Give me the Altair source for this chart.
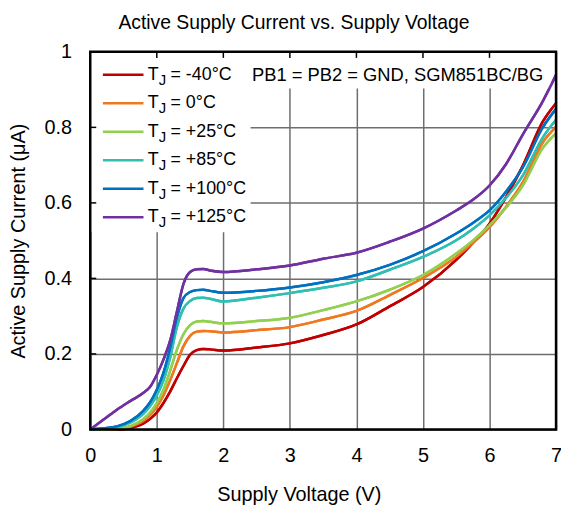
import altair as alt
import pandas as pd

FONT = "Liberation Sans"

# ---------------- data ----------------
voltage = [0, 0.2, 0.4, 0.6, 0.8, 0.9, 1.0, 1.1, 1.2, 1.3, 1.4, 1.5, 1.6, 1.7, 1.8,
           2.0, 2.5, 3.0, 3.5, 4.0, 4.5, 5.0, 5.5, 5.75, 6.0, 6.25, 6.5, 6.8, 7.0]

i_m40 = [0, 0, 0, 0.004, 0.016, 0.028, 0.045, 0.07, 0.1, 0.135, 0.168, 0.198, 0.21, 0.213, 0.212,
         0.209, 0.217, 0.228, 0.25, 0.278, 0.326, 0.377, 0.449, 0.494, 0.545, 0.616, 0.698, 0.815, 0.864]
i_0 = [0, 0, 0.001, 0.007, 0.023, 0.038, 0.06, 0.09, 0.13, 0.175, 0.22, 0.248, 0.259, 0.261, 0.26,
       0.257, 0.263, 0.271, 0.291, 0.314, 0.356, 0.401, 0.457, 0.494, 0.536, 0.59, 0.654, 0.76, 0.801]
i_25 = [0, 0, 0.001, 0.009, 0.028, 0.045, 0.07, 0.105, 0.155, 0.21, 0.252, 0.276, 0.286, 0.287, 0.285,
        0.281, 0.287, 0.296, 0.316, 0.339, 0.37, 0.409, 0.466, 0.5, 0.541, 0.588, 0.646, 0.745, 0.785]
i_85 = [0, 0.002, 0.006, 0.018, 0.042, 0.062, 0.09, 0.13, 0.19, 0.27, 0.32, 0.34, 0.348, 0.349, 0.346,
        0.339, 0.349, 0.361, 0.375, 0.392, 0.423, 0.457, 0.501, 0.531, 0.567, 0.614, 0.672, 0.773, 0.82]
i_100 = [0, 0.003, 0.008, 0.022, 0.05, 0.072, 0.105, 0.15, 0.215, 0.295, 0.348, 0.364, 0.369, 0.37, 0.367,
         0.362, 0.367, 0.376, 0.39, 0.409, 0.436, 0.472, 0.519, 0.547, 0.58, 0.63, 0.694, 0.8, 0.849]
i_125 = [0, 0.026, 0.052, 0.075, 0.097, 0.113, 0.145, 0.185, 0.235, 0.31, 0.385, 0.417, 0.424, 0.425, 0.421,
         0.417, 0.424, 0.434, 0.452, 0.468, 0.497, 0.532, 0.58, 0.608, 0.646, 0.703, 0.781, 0.869, 0.939]

series = ["-40°C", "0°C", "+25°C", "+85°C", "+100°C", "+125°C"]
colors = ["#C00000", "#F07820", "#92D050", "#30BFB0", "#0070C0", "#7030A0"]
x_ticks = [0, 1, 2, 3, 4, 5, 6, 7]
y_ticks = [0, 0.2, 0.4, 0.6, 0.8, 1.0]

title_text = "Active Supply Current vs. Supply Voltage"
x_title = "Supply Voltage (V)"
y_title = "Active Supply Current (μA)"
note_text = "PB1 = PB2 = GND, SGM851BC/BG"

# ---------------- tables ----------------
rows = []
for name, vals in zip(series, [i_m40, i_0, i_25, i_85, i_100, i_125]):
    for v, c in zip(voltage, vals):
        rows.append({"series": name, "v": v, "i": c})
df = pd.DataFrame(rows)

leg_y0, leg_dy = 0.9396, 0.0755
legend_df = pd.DataFrame({
    "series": series,
    "y": [leg_y0 - k * leg_dy for k in range(len(series))],
    "x0": 0.19, "x1": 0.80,
    "xt": 0.864, "xj": 1.03, "xr": 1.206,
    "label": ["= " + s for s in series],
})

boxes = pd.DataFrame({"x0": [0, 2.41], "x1": [2.41, 6.93], "y0": [0.522, 0.903], "y1": [1, 1]})
top_ticks = pd.DataFrame({"x": x_ticks[1:-1]})
left_ticks = pd.DataFrame({"y": y_ticks[1:-1]})
note_df = pd.DataFrame({"x": [2.43], "y": [leg_y0], "t": [note_text]})
one = pd.DataFrame({"a": [0]})

W, H = 470, 381
xs = alt.Scale(domain=[0, 7], nice=False, zero=False)
ys = alt.Scale(domain=[0, 1], nice=False)
col = alt.Color("series:N", scale=alt.Scale(domain=series, range=colors), legend=None)

GRID = "#6E6E6E"
x_axis = alt.Axis(values=x_ticks, format="~g", grid=True, gridColor=GRID, gridWidth=1.5,
                  ticks=False, tickSize=0, domain=False, labelFont=FONT, labelFontSize=20,
                  labelColor="black", labelBaseline="alphabetic", labelPadding=32,
                  labelFlush=False, labelOverlap=False,
                  title=x_title, titleFont=FONT, titleFontSize=20, titleFontWeight="normal",
                  titleColor="black", titleX=210.5, titleY=72, titleAlign="center",
                  titleBaseline="alphabetic")
y_axis = alt.Axis(values=y_ticks, format="~g", grid=True, gridColor=GRID, gridWidth=1.5,
                  ticks=False, tickSize=0, domain=False, labelFont=FONT, labelFontSize=20,
                  labelColor="black", labelPadding=19, labelBaseline="middle",
                  labelFlush=False, labelOverlap=False,
                  title=y_title, titleFont=FONT, titleFontSize=20, titleFontWeight="normal",
                  titleColor="black", titleX=-66, titleY=190.5, titleAlign="center",
                  titleBaseline="alphabetic", titleAngle=270)

lines = alt.Chart(df).mark_line(interpolate="monotone", strokeWidth=2.5).encode(
    x=alt.X("v:Q", scale=xs, axis=x_axis),
    y=alt.Y("i:Q", scale=ys, axis=y_axis),
    color=col,
    order=alt.Order("v:Q"),
)

box_layer = alt.Chart(boxes).mark_rect(fill="white", strokeWidth=0).encode(
    x="x0:Q", x2="x1:Q", y="y0:Q", y2="y1:Q")

leg_lines = alt.Chart(legend_df).mark_rule(strokeWidth=2.5).encode(
    x="x0:Q", x2="x1:Q", y="y:Q", color=col)
leg_T = alt.Chart(legend_df).mark_text(text="T", font=FONT, fontSize=18, align="left",
                                       baseline="middle", color="black").encode(x="xt:Q", y="y:Q")
leg_J = alt.Chart(legend_df).mark_text(text="J", font=FONT, fontSize=15, align="left",
                                       baseline="middle", dy=5, color="black").encode(x="xj:Q", y="y:Q")
leg_R = alt.Chart(legend_df).mark_text(font=FONT, fontSize=18, align="left",
                                       baseline="middle", color="black").encode(
    x="xr:Q", y="y:Q", text="label:N")

note = alt.Chart(note_df).mark_text(font=FONT, fontSize=18.5, align="left", baseline="middle",
                                    color="black").encode(x="x:Q", y="y:Q", text="t:N")

tt = alt.Chart(top_ticks).transform_calculate(y0="1", y1="0.984").mark_rule(
    color="black", strokeWidth=1.5).encode(x="x:Q", y="y0:Q", y2="y1:Q")
lt = alt.Chart(left_ticks).transform_calculate(x0="0", x1="0.09").mark_rule(
    color="black", strokeWidth=1.5).encode(y="y:Q", x="x0:Q", x2="x1:Q")

frame = alt.Chart(one).mark_rect(fill=None, stroke="black", strokeWidth=2.5).encode(
    x=alt.value(0), x2=alt.value(W), y=alt.value(0), y2=alt.value(H))

title_mark = alt.Chart(one).mark_text(text=title_text, font=FONT, fontSize=19.5, align="center",
                                      baseline="alphabetic", color="black").encode(
    x=alt.value(205.5), y=alt.value(-23))

chart = alt.layer(lines, box_layer, lines, leg_lines, leg_T, leg_J, leg_R, note, tt, lt, frame,
                  title_mark).properties(
    width=W, height=H,
    autosize=alt.AutoSizeParams(type="none"),
    padding={"left": 83, "top": 42, "right": 5, "bottom": 74},
).configure_view(stroke=None).configure(background="white")

chart.save("out.html", embed_options={"renderer": "svg", "actions": False})
